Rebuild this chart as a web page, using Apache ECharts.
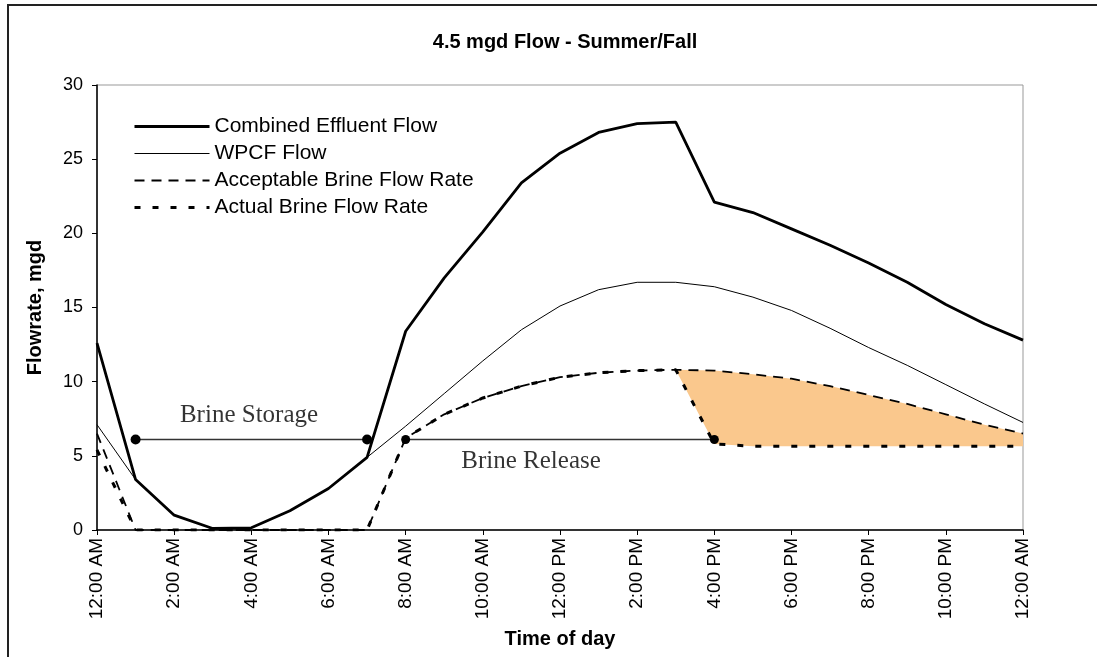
<!DOCTYPE html>
<html>
<head>
<meta charset="utf-8">
<script src="https://cdn.jsdelivr.net/npm/echarts@6/dist/echarts.min.js"></script>
<style>
html,body{margin:0;padding:0;background:#fff;}
#chart{width:1097px;height:657px;}
</style>
</head>
<body>
<div id="chart"></div>
<script>
// ---- data ----
var hours = [0,1,2,3,4,5,6,7,8,9,10,11,12,13,14,15,16,17,18,19,20,21,22,23,24];
var tickLabels = ['12:00 AM','2:00 AM','4:00 AM','6:00 AM','8:00 AM','10:00 AM','12:00 PM','2:00 PM','4:00 PM','6:00 PM','8:00 PM','10:00 PM','12:00 AM'];
var combinedFlow   = [12.6,3.4,1.0,0.1,0.15,1.3,2.8,4.9,13.4,17.0,20.1,23.4,25.4,26.8,27.4,27.5,22.1,21.4,20.3,19.2,18.0,16.7,15.2,13.9,12.8];
var wpcfFlow       = [7.1,3.4,1.0,0.1,0.15,1.3,2.8,4.9,7.0,9.2,11.4,13.5,15.1,16.2,16.7,16.7,16.4,15.7,14.8,13.6,12.3,11.1,9.8,8.5,7.25];
var acceptableBrine= [6.5,0,0,0,0,0,0,0,6.2,7.8,8.9,9.7,10.3,10.6,10.75,10.8,10.75,10.5,10.2,9.7,9.1,8.5,7.8,7.1,6.5];
var actualBrine    = [5.4,0,0,0,0,0,0,0,6.2,7.8,8.9,9.7,10.3,10.6,10.75,10.8,5.8,5.65,5.65,5.65,5.65,5.65,5.65,5.65,5.65];
var storageHours = [1,7];
var releaseHours = [8,16];
var brineLevel = 6.1;
var shadeStartHour = 15;
var seriesNames = ['Combined Effluent Flow','WPCF Flow','Acceptable Brine Flow Rate','Actual Brine Flow Rate'];
var annotationTexts = ['Brine Storage','Brine Release'];

function pairs(xs, ys){ return xs.map(function(x,i){ return [x, ys[i]]; }); }

var chart = echarts.init(document.getElementById('chart'), null, {renderer:'canvas'});

var option = {
  animation: false,
  backgroundColor: '#fff',
  title: {
    text: '4.5 mgd Flow - Summer/Fall',
    left: 560, top: 27, textAlign: 'center',
    textStyle: {fontFamily: 'Liberation Sans, Arial', fontWeight: 'bold', fontSize: 20, color: '#000'}
  },
  graphic: [{
    type: 'rect', silent: true,
    shape: {x: 8, y: 5, width: 1200, height: 800},
    style: {fill: 'none', stroke: '#222', lineWidth: 2}
  }],
  legend: {
    orient: 'vertical', left: 128, top: 111,
    itemWidth: 75, itemHeight: 14, itemGap: 6,
    data: seriesNames,
    itemStyle: {opacity: 0},
    lineStyle: {width: 'inherit', type: 'inherit', color: 'inherit'},
    textStyle: {fontFamily: 'Liberation Sans, Arial', fontSize: 21, color: '#000', lineHeight: 21}
  },
  grid: {left: 97, right: 74, top: 85, bottom: 127, show: true, borderColor: '#999', borderWidth: 1, containLabel: false},
  xAxis: {
    type: 'value', min: 0, max: 24, interval: 2,
    name: 'Time of day', nameLocation: 'middle', nameGap: 99,
    nameTextStyle: {fontFamily: 'Liberation Sans, Arial', fontWeight: 'bold', fontSize: 20, color: '#000'},
    axisLine: {lineStyle: {color: '#000', width: 1.5}},
    axisTick: {show: true, length: 5, lineStyle: {color: '#000'}},
    splitLine: {show: false},
    axisLabel: {
      rotate: 90, margin: 8, color: '#000',
      fontFamily: 'Liberation Sans, Arial', fontSize: 19,
      formatter: function(v){ return tickLabels[Math.round(v/2)]; }
    }
  },
  yAxis: {
    type: 'value', min: 0, max: 30, interval: 5,
    name: 'Flowrate, mgd', nameLocation: 'middle', nameGap: 52, nameRotate: 90,
    nameTextStyle: {fontFamily: 'Liberation Sans, Arial', fontWeight: 'bold', fontSize: 20, color: '#000'},
    axisLine: {show: true, lineStyle: {color: '#000', width: 1.5}},
    axisTick: {show: true, length: 5, lineStyle: {color: '#000'}},
    splitLine: {show: false},
    axisLabel: {margin: 14, color: '#000', fontFamily: 'Liberation Sans, Arial', fontSize: 18}
  },
  series: [
    {
      type: 'custom', name: 'shade', silent: true, z: 1,
      data: [[shadeStartHour, 0]],
      renderItem: function(params, api){
        var pts = [];
        var i;
        for (i = 0; i < hours.length; i++) {
          if (hours[i] >= shadeStartHour) pts.push(api.coord([hours[i], actualBrine[i]]));
        }
        for (i = hours.length - 1; i >= 0; i--) {
          if (hours[i] >= shadeStartHour) pts.push(api.coord([hours[i], acceptableBrine[i]]));
        }
        return {type: 'polygon', shape: {points: pts}, style: {fill: '#FAC88D', stroke: null}};
      }
    },
    {
      name: seriesNames[0], type: 'line', data: pairs(hours, combinedFlow), z: 5,
      symbol: 'none', color: '#000',
      lineStyle: {color: '#000', width: 2.8}
    },
    {
      name: seriesNames[1], type: 'line', data: pairs(hours, wpcfFlow), z: 4,
      symbol: 'none', color: '#000',
      lineStyle: {color: '#000', width: 1}
    },
    {
      name: seriesNames[2], type: 'line', data: pairs(hours, acceptableBrine), z: 4,
      symbol: 'none', color: '#000',
      lineStyle: {color: '#000', width: 1.8, type: [10, 7]}
    },
    {
      name: seriesNames[3], type: 'line', data: pairs(hours, actualBrine), z: 4,
      symbol: 'none', color: '#000',
      lineStyle: {color: '#000', width: 3, type: [6, 12]}
    },
    {
      name: 'storage', type: 'line', z: 6,
      data: [[storageHours[0], brineLevel],[storageHours[1], brineLevel]],
      symbol: 'circle', symbolSize: 10, itemStyle: {color: '#000'},
      lineStyle: {color: '#333', width: 1.5}
    },
    {
      name: 'release', type: 'line', z: 6,
      data: [[releaseHours[0], brineLevel],[releaseHours[1], brineLevel]],
      symbol: 'circle', symbolSize: 9, itemStyle: {color: '#000'},
      lineStyle: {color: '#333', width: 1.5}
    },
    {
      name: 'notes', type: 'scatter', z: 7, symbolSize: 0,
      data: [
        {name: annotationTexts[0], value: [3.94, 7.75]},
        {name: annotationTexts[1], value: [11.25, 4.59]}
      ],
      label: {
        show: true, position: 'inside', formatter: '{b}',
        fontFamily: 'Liberation Serif, Times New Roman', fontSize: 25, color: '#000'
      }
    }
  ]
};
chart.setOption(option);
</script>
</body>
</html>
